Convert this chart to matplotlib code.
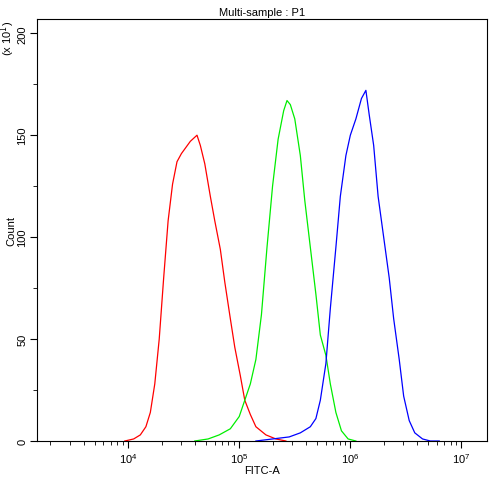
import matplotlib
matplotlib.use("Agg")
import matplotlib.pyplot as plt
import numpy as np
from matplotlib.ticker import LogLocator, NullFormatter, MultipleLocator

plt.rcParams['font.family'] = ['Liberation Sans', 'DejaVu Sans']

# log10(FITC-A), count (x10)
red_x = [3.97,4.05,4.11,4.16,4.20,4.24,4.28,4.32,4.36,4.40,4.44,4.48,4.52,4.56,4.60,4.62,4.65,4.69,4.74,4.78,4.83,4.87,4.92,4.96,5.01,5.05,5.10,5.15,5.24,5.33,5.42]
red_y = [0,1,3,7,14,28,50,80,108,126,137,141,144,147,149,150,145,136,120,108,94,78,60,46,32,20,13,7,3,1,0]
green_x = [4.60,4.72,4.82,4.92,5.00,5.05,5.10,5.15,5.20,5.25,5.30,5.35,5.40,5.43,5.46,5.50,5.55,5.59,5.64,5.69,5.73,5.78,5.82,5.87,5.92,5.98,6.05]
green_y = [0,1,3,6,12,20,28,40,62,95,125,148,162,167,165,158,140,118,95,72,52,42,28,14,5,1,0]
blue_x = [5.15,5.30,5.45,5.55,5.64,5.69,5.73,5.78,5.82,5.87,5.91,5.96,6.00,6.05,6.10,6.14,6.17,6.21,6.25,6.30,6.35,6.39,6.44,6.48,6.53,6.58,6.65,6.72,6.80]
blue_y = [0,1,2,4,7,11,20,38,65,95,120,140,150,158,168,172,160,145,120,100,80,60,40,22,10,4,1,0,0]

fig = plt.figure(figsize=(4.94, 4.81), dpi=100)
ax = fig.add_axes([37/494, 1-442/481, 450/494, 422/481])
for xs, ys, c in [(red_x, red_y, "red"), (green_x, green_y, "#00ee00"), (blue_x, blue_y, "blue")]:
    ax.plot(10**np.array(xs), ys, color=c, lw=0.9)
ax.set_xscale("log")
ax.set_xlim(10**3.18, 10**7.23)
ax.set_ylim(0, 207)
ax.yaxis.set_major_locator(MultipleLocator(50))
ax.yaxis.set_minor_locator(MultipleLocator(25))
ax.xaxis.set_major_locator(LogLocator(base=10, numticks=10))
ax.xaxis.set_minor_locator(LogLocator(base=10, subs=np.arange(2, 10), numticks=20))
ax.xaxis.set_minor_formatter(NullFormatter())
for lab in ax.get_yticklabels():
    lab.set_rotation(90); lab.set_va("center")
ax.tick_params(labelsize=8, direction="out", length=5, pad=2)
ax.tick_params(which="minor", length=3)
ax.set_xlabel("FITC-A", fontsize=8, labelpad=0)
ax.set_ylabel("Count", fontsize=8, labelpad=1)
ax.set_title("Multi-sample : P1", fontsize=8, pad=3)
fig.text(8/494, 1-38/481, r"(x 10$^1$)", rotation=90, fontsize=8, ha="center", va="center")
fig.savefig("out.png", dpi=100)
